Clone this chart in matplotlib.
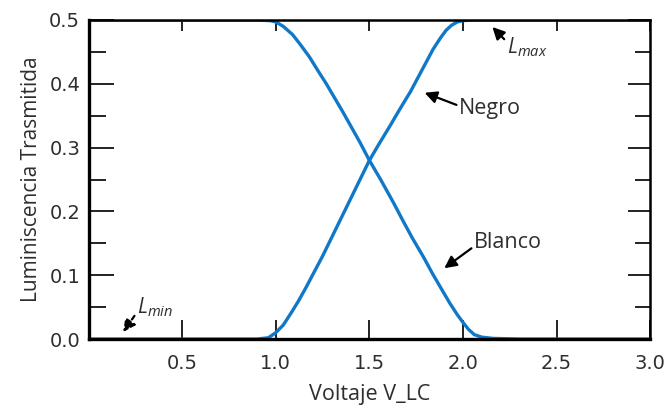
import matplotlib
matplotlib.use("Agg")
import matplotlib.pyplot as plt
import numpy as np

# transmitted luminance vs LC voltage, read per curve
v_blanco = [0.0, 0.9, 0.97, 1.0, 1.04, 1.09, 1.13, 1.18, 1.22, 1.27, 1.36, 1.45, 1.5,
            1.56, 1.63, 1.68, 1.73, 1.79, 1.84, 1.89, 1.93, 1.97, 2.0, 2.03, 2.06,
            2.1, 2.16, 2.3, 3.0]
l_blanco = [0.5, 0.5, 0.499, 0.497, 0.490, 0.477, 0.462, 0.442, 0.423, 0.40, 0.355,
            0.308, 0.28, 0.25, 0.213, 0.185, 0.158, 0.128, 0.101, 0.076, 0.056, 0.038,
            0.026, 0.015, 0.007, 0.003, 0.001, 0.0, 0.0]

v_negro = [0.0, 0.9, 0.96, 1.0, 1.04, 1.08, 1.12, 1.16, 1.25, 1.34, 1.43, 1.5, 1.55,
           1.61, 1.66, 1.72, 1.76, 1.80, 1.84, 1.88, 1.91, 1.94, 1.97, 2.0, 2.05, 3.0]
l_negro = [0.0, 0.0, 0.002, 0.01, 0.022, 0.04, 0.059, 0.08, 0.13, 0.184, 0.238, 0.28,
           0.305, 0.334, 0.359, 0.388, 0.41, 0.432, 0.454, 0.472, 0.484, 0.492, 0.497,
           0.499, 0.5, 0.5]

xticks = [0.5, 1.0, 1.5, 2.0, 2.5, 3.0]
yticks = [0.0, 0.1, 0.2, 0.3, 0.4, 0.5]

blue = "#0f78c8"
txt = "#2e2e2e"
lab_font = "Open Sans"

plt.rcParams["mathtext.fontset"] = "custom"
plt.rcParams["mathtext.it"] = "Open Sans:italic"
plt.rcParams["mathtext.rm"] = "Open Sans"

fig = plt.figure(figsize=(6.71, 4.08), dpi=100)
ax = fig.add_axes([0.132, 0.169, 0.837, 0.782])

ax.plot(v_blanco, l_blanco, color=blue, lw=2.4, solid_capstyle="round",
        solid_joinstyle="round")
ax.plot(v_negro, l_negro, color=blue, lw=2.4, solid_capstyle="round",
        solid_joinstyle="round")

ax.set_xlim(0, 3.0)
ax.set_ylim(0, 0.5)
ax.set_xticks(xticks)
ax.set_xticklabels(["%.1f" % t for t in xticks])
ax.set_yticks(yticks)
ax.set_yticklabels(["%.1f" % t for t in yticks])
ax.set_yticks(np.arange(0.05, 0.5, 0.1), minor=True)

ax.tick_params(which="major", direction="in", length=18, width=1.3,
               top=True, right=True, labelsize=14, labelcolor=txt, color="#111111")
ax.tick_params(which="minor", direction="in", length=12, width=1.3,
               right=True, color="#111111")
ax.tick_params(axis="x", pad=11)
ax.tick_params(axis="y", pad=6)

# shorter ticks along the top and right edges
for t in ax.xaxis.get_major_ticks():
    t.tick1line.set_markersize(14)
    t.tick2line.set_markersize(8)
for t in ax.yaxis.get_major_ticks():
    t.tick2line.set_markersize(16)
for t in ax.yaxis.get_minor_ticks():
    t.tick2line.set_markersize(11)

for side in ["left", "bottom"]:
    ax.spines[side].set_linewidth(2.4)
for side in ["top", "right"]:
    ax.spines[side].set_linewidth(1.8)

ax.set_xlabel("Voltaje V_LC", fontsize=15.5, color=txt, family=lab_font, labelpad=8)
ax.set_ylabel("Luminiscencia Trasmitida", fontsize=15, color=txt, family=lab_font,
              labelpad=5)

arrow = dict(arrowstyle="-|>", color="black", lw=1.6, mutation_scale=18,
             shrinkA=0, shrinkB=0)

ax.annotate("Negro", xy=(1.795, 0.386), xytext=(1.98, 0.362), fontsize=15.5,
            family=lab_font, color=txt, va="center", ha="left",
            arrowprops=dict(arrow, relpos=(0, 0.6)))
ax.annotate("Blanco", xy=(1.90, 0.111), xytext=(2.06, 0.152), fontsize=15.5,
            family=lab_font, color=txt, va="center", ha="left",
            arrowprops=dict(arrow, relpos=(0, 0.3)))
ax.annotate("$L_{max}$", xy=(2.157, 0.489), xytext=(2.235, 0.458), fontsize=15,
            color=txt, va="center", ha="left",
            arrowprops=dict(arrow, relpos=(0, 0.7)))
ax.annotate("$L_{min}$", xy=(0.185, 0.011), xytext=(0.26, 0.05), fontsize=15,
            color=txt, va="center", ha="left",
            arrowprops=dict(arrow, relpos=(0, 0.3), ls=(0, (2, 1.5))))

fig.savefig("out.png", dpi=100)
